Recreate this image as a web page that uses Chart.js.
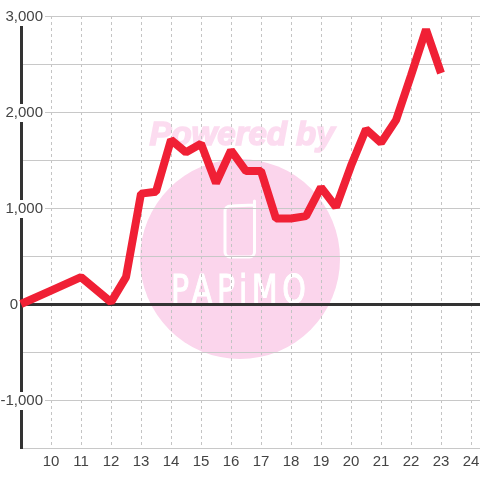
<!DOCTYPE html>
<html>
<head>
<meta charset="utf-8">
<style>html,body{margin:0;padding:0;background:#fff}canvas{display:block}</style>
<script src="https://cdn.jsdelivr.net/npm/chart.js@4/dist/chart.umd.min.js"></script>
</head>
<body>
<div style="width:480px;height:480px"><canvas id="c" width="480" height="480"></canvas></div>
<script>
const hours = [9,10,11,12,12.5,13,13.5,14,14.5,15,15.5,16,16.5,17,17.5,18,18.5,19,19.5,20,20.5,21,21.5,22,22.5,23];
const values = [0,140,280,20,280,1150,1170,1710,1580,1670,1260,1600,1385,1385,890,890,915,1215,1010,1440,1820,1680,1915,2380,2860,2405];
const xTicks = [9,10,11,12,13,14,15,16,17,18,19,20,21,22,23,24];
const yLabelled = [-1000,1000,2000,3000];

const watermark = {
  id: 'watermark',
  beforeDraw(chart) {
    const c = chart.ctx;
    c.save();
    c.fillStyle = '#fbd5ec';
    c.beginPath(); c.arc(240, 259, 100, 0, Math.PI * 2); c.fill();
    c.fillStyle = '#fcdcf0';
    c.strokeStyle = '#fcdcf0'; c.lineWidth = 1.6;
    c.font = 'italic bold 33px "Liberation Sans"';
    c.textAlign = 'center'; c.textBaseline = 'alphabetic';
    c.fillText('Powered by', 242, 145);
    c.strokeText('Powered by', 242, 145);
    c.strokeStyle = '#ffffff'; c.lineWidth = 3; c.lineCap = 'round';
    c.beginPath();
    c.moveTo(254.5, 201); c.lineTo(254.5, 252);
    c.arcTo(254.5, 257, 249.5, 257, 5); c.lineTo(230, 257);
    c.arcTo(225, 257, 225, 252, 5); c.lineTo(225, 211);
    c.arcTo(225, 206, 230, 206, 5); c.lineTo(254.5, 205);
    c.stroke();
    c.fillStyle = '#ffffff';
    c.strokeStyle = '#ffffff'; c.lineWidth = 0.8;
    c.font = '30px "DejaVu Sans"';
    c.textAlign = 'left';
    c.letterSpacing = '4.6px';
    c.translate(171, 303);
    c.scale(1, 1.3);
    c.fillText('PAPiMO', 0, 0);
    c.strokeText('PAPiMO', 0, 0);
    c.restore();
  }
};

new Chart(document.getElementById('c'), {
  type: 'line',
  data: { datasets: [{
    data: hours.map((h, i) => ({ x: h, y: values[i] })),
    borderColor: '#f02035', borderWidth: 8, pointRadius: 0,
    borderJoinStyle: 'bevel', tension: 0, fill: false, clip: false
  }] },
  plugins: [watermark],
  options: {
    responsive: false, animation: false,
    layout: { padding: { top: 16, right: 0, bottom: 0, left: 0 } },
    plugins: { legend: { display: false }, tooltip: { enabled: false }, title: { display: false } },
    scales: {
      x: {
        type: 'linear', min: 9, max: 24.3,
        afterBuildTicks(s) { s.ticks = xTicks.map(v => ({ value: v })); },
        afterFit(s) { s.height = 32; s.paddingLeft = 0; s.paddingRight = 0; },
        grid: { color: '#c4c4c4', lineWidth: 1, drawTicks: false },
        border: { display: false, dash: [3, 3] },
        ticks: {
          maxRotation: 0, autoSkip: false, padding: 5, color: '#444',
          font: { family: '"Liberation Sans"', size: 15 },
          callback: v => v === 9 ? '' : String(v)
        }
      },
      y: {
        type: 'linear', min: -1500, max: 3000,
        afterFit(s) { s.width = 21; },
        grid: {
          drawTicks: false,
          color: c => c.tick && c.tick.value === 0 ? '#333333' : '#c8c8c8',
          lineWidth: c => c.tick && c.tick.value === 0 ? 3 : 1
        },
        border: { display: true, color: '#333333', width: 3 },
        ticks: {
          stepSize: 500, mirror: true, crossAlign: 'far', padding: -20.5, labelOffset: 1, color: '#444', autoSkip: false,
          font: { family: '"Liberation Sans"', size: 15 },
          showLabelBackdrop: true,
          backdropPadding: { left: 0, right: 2, top: 0, bottom: 0 },
          backdropColor: c => yLabelled.includes(c.tick.value) ? '#ffffff' : 'rgba(0,0,0,0)',
          callback: v => v === 0 ? '0\u00a0\u00a0\u00a0\u00a0\u00a0\u00a0' : (yLabelled.includes(v) ? v.toLocaleString('en-US') : '')
        }
      }
    }
  }
});
</script>
</body>
</html>
